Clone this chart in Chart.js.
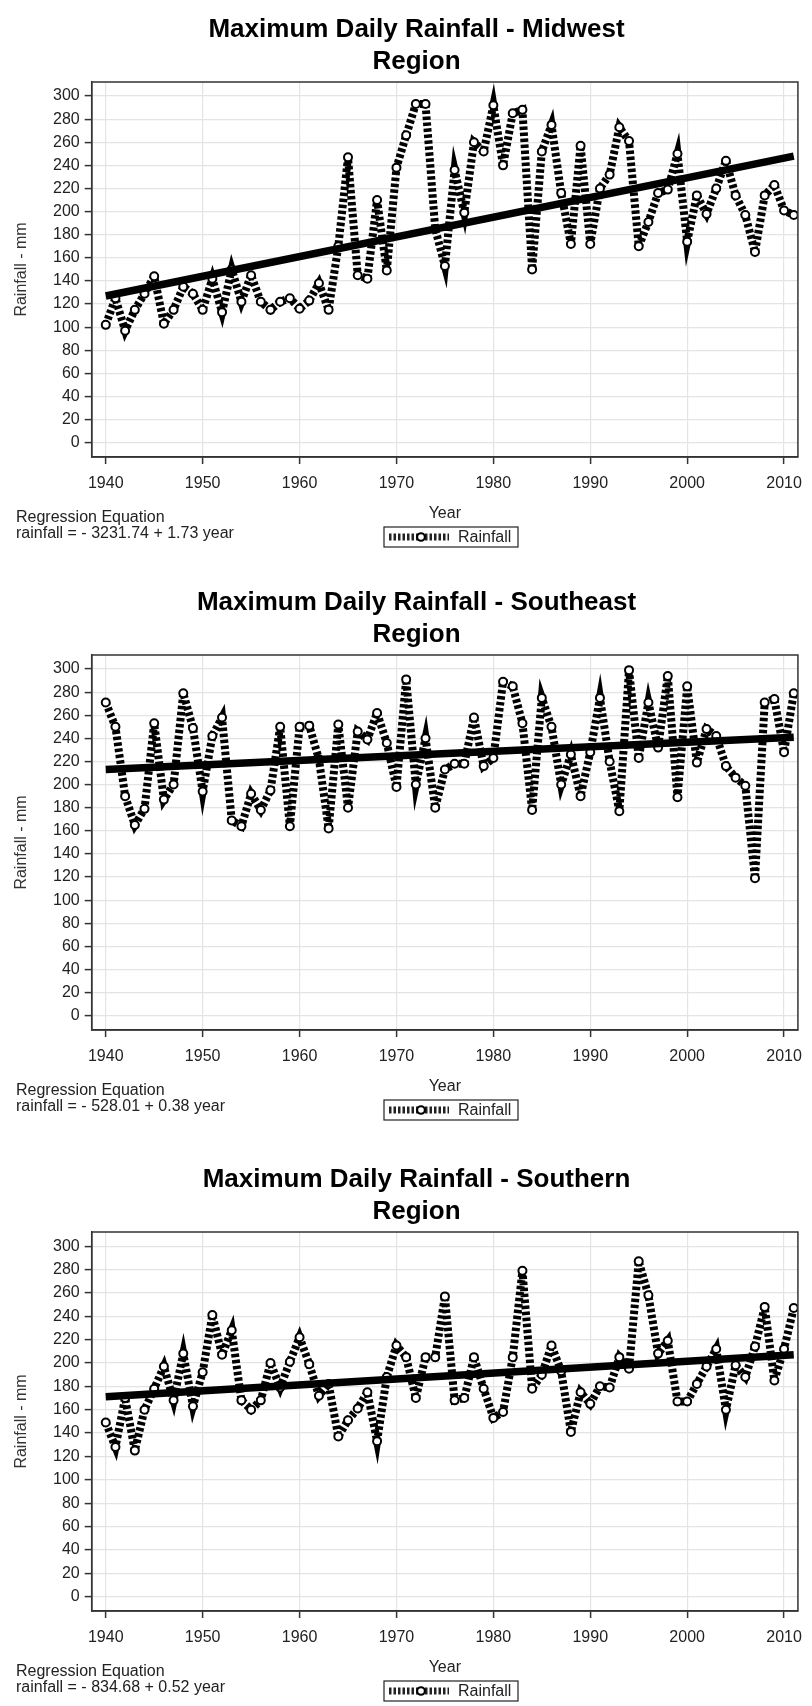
<!DOCTYPE html>
<html>
<head>
<meta charset="utf-8">
<script src="https://cdn.jsdelivr.net/npm/chart.js@4.4.1/dist/chart.umd.min.js"></script>
<style>
  body { margin: 0; background: #fff; }
  .panel { position: absolute; left: 0; width: 812px; }
</style>
</head>
<body>
<div class="panel" style="top:0px;height:560px"><canvas id="midwest"></canvas></div>
<div class="panel" style="top:573px;height:560px"><canvas id="southeast"></canvas></div>
<div class="panel" style="top:1150px;height:556px"><canvas id="southern"></canvas></div>

<script>
const years = [
    1940, 1941, 1942, 1943, 1944, 1945, 1946, 1947, 1948, 1949,
    1950, 1951, 1952, 1953, 1954, 1955, 1956, 1957, 1958, 1959,
    1960, 1961, 1962, 1963, 1964, 1965, 1966, 1967, 1968, 1969,
    1970, 1971, 1972, 1973, 1974, 1975, 1976, 1977, 1978, 1979,
    1980, 1981, 1982, 1983, 1984, 1985, 1986, 1987, 1988, 1989,
    1990, 1991, 1992, 1993, 1994, 1995, 1996, 1997, 1998, 1999,
    2000, 2001, 2002, 2003, 2004, 2005, 2006, 2007, 2008, 2009,
    2010, 2011
];

const midwestRain = [
    102, 125, 97, 115, 129, 144, 103, 115, 135, 129,
    115, 142, 113, 150, 122, 145, 122, 115, 122, 125,
    116, 123, 138, 115, 170, 247, 145, 142, 210, 149,
    238, 266, 293, 293, 185, 153, 236, 199, 260, 252,
    292, 240, 285, 288, 150, 252, 275, 216, 172, 257,
    172, 220, 232, 273, 261, 170, 191, 216, 219, 250,
    174, 214, 198, 220, 244, 214, 197, 165, 214, 223,
    201, 197
];

const southeastRain = [
    271, 250, 190, 165, 179, 253, 187, 200, 279, 249,
    194, 242, 258, 169, 164, 192, 178, 195, 250, 164,
    250, 251, 222, 162, 252, 180, 246, 239, 262, 236,
    198, 291, 200, 240, 180, 213, 218, 218, 258, 216,
    223, 289, 285, 253, 178, 275, 250, 200, 226, 190,
    228, 275, 220, 177, 299, 223, 271, 232, 294, 189,
    285, 219, 248, 242, 216, 206, 199, 119, 271, 274,
    228, 279
];

const southernRain = [
    149, 128, 170, 125, 160, 178, 197, 168, 208, 163,
    192, 241, 207, 228, 168, 160, 168, 200, 179, 201,
    222, 199, 172, 182, 137, 151, 161, 175, 133, 188,
    215, 205, 170, 205, 205, 257, 168, 170, 205, 178,
    153, 158, 205, 279, 178, 190, 215, 193, 141, 175,
    165, 180, 179, 205, 195, 287, 258, 208, 219, 167,
    167, 182, 197, 212, 160, 198, 188, 214, 248, 185,
    212, 247
];

// regression line read at 1940 and 2011
const fitYears = [1940, 2011];
const midwestFit = [127, 248];
const southeastFit = [213, 241];
const southernFit = [171, 207];

const xTicks = [1940, 1950, 1960, 1970, 1980, 1990, 2000, 2010];
const yTicks = [0, 20, 40, 60, 80, 100, 120, 140, 160, 180, 200, 220, 240, 260, 280, 300];

const FONT = '"Liberation Sans", Arial, sans-serif';
Chart.defaults.font.family = FONT;
Chart.defaults.color = "#222";

function makePanel(id, title, rain, fit, equation, padBottom) {

    const ctx = document.getElementById(id);

    const extras = {
        id: "extras_" + id,
        beforeDatasetsDraw(chart) {
            // shorter spikes at the sharp corners of the thick dashed line
            chart.ctx.miterLimit = 7;
        },
        afterDatasetsDraw(chart) {
            chart.ctx.miterLimit = 10;
        },
        afterDraw(chart) {
            const c = chart.ctx;
            const a = chart.chartArea;
            c.save();

            // frame
            c.strokeStyle = "#333";
            c.lineWidth = 1.5;
            c.strokeRect(a.left, a.top, a.right - a.left, a.bottom - a.top);

            // y title
            c.fillStyle = "#333";
            c.font = "16px " + FONT;
            c.textAlign = "center";
            c.textBaseline = "middle";
            c.translate(21.5, (a.top + a.bottom) / 2);
            c.rotate(-Math.PI / 2);
            c.fillText("Rainfall - mm", 0, 0);
            c.setTransform(1, 0, 0, 1, 0, 0);

            const b = a.bottom;

            // regression equation
            c.fillStyle = "#222";
            c.textAlign = "left";
            c.textBaseline = "alphabetic";
            c.fillText("Regression Equation", 16, b + 65);
            c.fillText(equation, 16, b + 81);

            // legend
            const top = b + 70;
            const h = 20;
            c.strokeStyle = "#222";
            c.lineWidth = 1.2;
            c.strokeRect(384, top, 134, h);

            c.beginPath();
            c.setLineDash([2.5, 2]);
            c.lineWidth = 7;
            c.lineCap = "butt";
            c.moveTo(389, top + h / 2);
            c.lineTo(449, top + h / 2);
            c.stroke();
            c.setLineDash([]);

            c.beginPath();
            c.arc(421, top + h / 2, 3.8, 0, Math.PI * 2);
            c.fillStyle = "#fff";
            c.fill();
            c.lineWidth = 2;
            c.strokeStyle = "#000";
            c.stroke();

            c.fillStyle = "#222";
            c.textBaseline = "middle";
            c.fillText("Rainfall", 458, top + h / 2 + 1);

            c.restore();
        }
    };

    return new Chart(ctx, {
        type: "line",
        data: {
            datasets: [
                {
                    label: "Regression",
                    data: fitYears.map((y, i) => ({ x: y, y: fit[i] })),
                    borderColor: "#000",
                    borderWidth: 7.5,
                    borderCapStyle: "butt",
                    pointRadius: 0
                },
                {
                    label: "Rainfall",
                    data: years.map((y, i) => ({ x: y, y: rain[i] })),
                    borderColor: "#000",
                    borderWidth: 8,
                    borderDash: [3.5, 2.5],
                    borderCapStyle: "butt",
                    borderJoinStyle: "miter",
                    tension: 0,
                    pointRadius: 4,
                    pointBorderWidth: 2,
                    pointBorderColor: "#000",
                    pointBackgroundColor: "#fff"
                }
            ]
        },
        options: {
            responsive: true,
            maintainAspectRatio: false,
            animation: false,
            layout: {
                padding: { left: 28, right: 7, top: 0, bottom: padBottom }
            },
            plugins: {
                legend: { display: false },
                tooltip: { enabled: false },
                title: {
                    display: true,
                    text: title,
                    color: "#000",
                    font: { size: 26, weight: "bold", lineHeight: 1.2308 },
                    padding: { top: 14, bottom: 4 }
                }
            },
            scales: {
                x: {
                    type: "linear",
                    min: 1938.55,
                    max: 2011.43,
                    afterBuildTicks: (s) => { s.ticks = xTicks.map(v => ({ value: v })); },
                    afterFit: (s) => { s.height = 70; },
                    grid: {
                        color: "#e4e4e4",
                        lineWidth: 1.2,
                        tickColor: "#333",
                        tickLength: 7,
                        tickWidth: 1.5
                    },
                    border: { display: true, color: "#333", width: 1.5 },
                    ticks: {
                        font: { size: 16 },
                        color: "#222",
                        padding: 10,
                        maxRotation: 0,
                        callback: (v) => String(v)
                    },
                    title: {
                        display: true,
                        text: "Year",
                        color: "#222",
                        font: { size: 16 },
                        padding: { top: 4, bottom: 3.4 }
                    }
                },
                y: {
                    min: -12.3,
                    max: 312.1,
                    afterBuildTicks: (s) => { s.ticks = yTicks.map(v => ({ value: v })); },
                    afterFit: (s) => { s.width = 63.7; },
                    grid: {
                        color: "#e4e4e4",
                        lineWidth: 1.2,
                        tickColor: "#333",
                        tickLength: 7,
                        tickWidth: 1.5
                    },
                    border: { display: true, color: "#333", width: 1.5 },
                    ticks: {
                        font: { size: 16 },
                        color: "#222",
                        padding: 5
                    }
                }
            }
        },
        plugins: [extras]
    });
}

makePanel("midwest", ["Maximum Daily Rainfall - Midwest", "Region"],
    midwestRain, midwestFit, "rainfall = - 3231.74 + 1.73 year", 33);
makePanel("southeast", ["Maximum Daily Rainfall - Southeast", "Region"],
    southeastRain, southeastFit, "rainfall = - 528.01 + 0.38 year", 33);
makePanel("southern", ["Maximum Daily Rainfall - Southern", "Region"],
    southernRain, southernFit, "rainfall = - 834.68 + 0.52 year", 25);
</script>
</body>
</html>
